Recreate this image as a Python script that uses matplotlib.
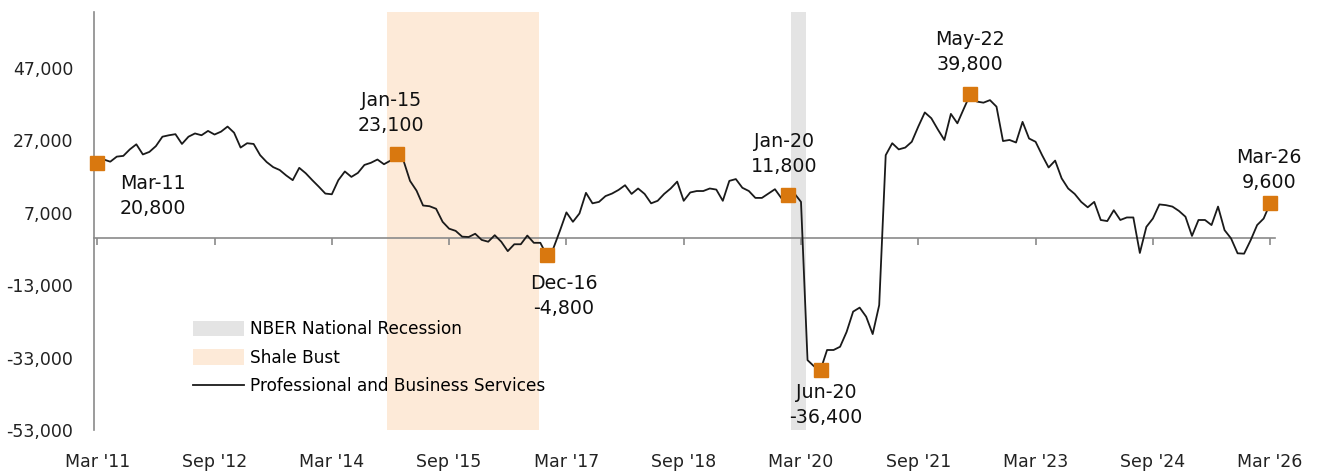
import matplotlib
matplotlib.use("Agg")
import matplotlib.pyplot as plt
from matplotlib.patches import Patch
from matplotlib.lines import Line2D
import pandas as pd

plt.rcParams['font.family'] = ['DejaVu Sans']

# --- veri: aylık değişim (Mar 2011 - Mar 2026) ---
start_month = "2011-03"
jobs = [
    20.8, 21.7, 21.1, 22.5, 22.7, 24.5, 25.9, 23.1, 23.8, 25.4,
    28.0, 28.4, 28.7, 26.0, 28.0, 28.9, 28.4, 29.6, 28.6, 29.4,
    30.8, 29.1, 25.0, 26.2, 26.0, 22.9, 21.0, 19.6, 18.8, 17.3,
    16.0, 19.4, 17.9, 16.0, 14.2, 12.3, 12.1, 16.0, 18.4, 16.9,
    18.0, 20.2, 20.8, 21.7, 20.4, 21.4, 23.1, 21.4, 15.8, 13.1,
    9.0, 8.8, 8.1, 4.5, 2.6, 2.0, 0.4, 0.3, 1.2, -0.5,
    -1.0, 0.8, -1.0, -3.6, -1.7, -1.7, 0.7, -1.3, -1.3, -4.8,
    -2.8, 2.0, 7.1, 4.5, 6.8, 12.5, 9.6, 10.0, 11.6, 12.3,
    13.3, 14.6, 12.2, 13.7, 12.2, 9.6, 10.3, 12.2, 13.7, 15.6,
    10.3, 12.6, 13.0, 13.0, 13.7, 13.4, 10.3, 15.8, 16.3, 13.9,
    13.0, 11.1, 11.1, 12.3, 13.5, 11.0, 11.8, 12.3, 10.0, -33.7,
    -35.4, -36.4, -30.9, -30.9, -30.0, -25.9, -20.3, -19.2, -21.7, -26.5,
    -18.5, 22.9, 26.2, 24.5, 25.0, 26.6, 30.8, 34.7, 33.1, 30.0,
    27.1, 34.3, 31.7, 35.8, 39.8, 37.7, 37.4, 38.1, 36.3, 26.8,
    27.1, 26.4, 32.1, 27.5, 26.6, 22.9, 19.5, 21.4, 16.5, 13.7,
    12.2, 10.0, 8.5, 10.0, 5.0, 4.7, 7.7, 5.0, 5.7, 5.7,
    -4.1, 3.1, 5.4, 9.3, 9.1, 8.7, 7.5, 5.9, 0.6, 5.0,
    5.0, 3.6, 8.7, 2.2, -0.1, -4.2, -4.3, -0.6, 3.6, 5.4,
    9.6,
]
jobs = [v * 1000 for v in jobs]

months = pd.period_range(start_month, periods=len(jobs), freq="M")
x = list(range(len(jobs)))

# işaretlenen noktalar ve etiket ofsetleri
highlight_months = ["2011-03", "2015-01", "2016-12", "2020-01", "2020-06", "2022-05", "2026-03"]
label_offsets = [(40, -24), (-4, 30), (12, -29), (-3, 30), (4, -25), (0, 30), (-1, 24)]

# gölgeli dönemler
shale_bust = ("2014-12", "2016-11")
recession = ("2020-02", "2020-04")

y_ticks = [-53000, -33000, -13000, 7000, 27000, 47000]
x_tick_labels = ["Mar '11", "Sep '12", "Mar '14", "Sep '15", "Mar '17", "Sep '18",
                 "Mar '20", "Sep '21", "Mar '23", "Sep '24", "Mar '26"]

ORANGE = "#D9780F"


def month_index(s):
    return (pd.Period(s, freq="M") - months[0]).n


fig = plt.figure(figsize=(13.2, 4.71), dpi=100)
ax = fig.add_axes([0.0712, 0.087, 0.895, 0.888])

# gölgeler
ax.axvspan(month_index(shale_bust[0]) - 0.5, month_index(shale_bust[1]) - 0.2,
           color="#FDEAD8", lw=0, zorder=0)
ax.axvspan(month_index(recession[0]) - 0.5, month_index(recession[1]) - 0.2,
           color="#E4E4E4", lw=0, zorder=0)

ax.plot(x, jobs, color="#1a1a1a", lw=1.3, zorder=3)

for m, off in zip(highlight_months, label_offsets):
    i = month_index(m)
    ax.plot(i, jobs[i], marker="s", ms=10, color=ORANGE, mec=ORANGE, zorder=4, clip_on=False)
    lbl = pd.Period(m, freq="M").strftime("%b-%y") + "\n" + f"{jobs[i]:,.0f}"
    ax.annotate(lbl, (i, jobs[i]), xytext=off, textcoords="offset points",
                ha="center", va="center", fontsize=13.7, linespacing=1.4, color="#111111")

ax.set_xlim(-0.5, len(jobs) - 0.2)
ax.set_ylim(-53000, 62500)

# eksenler
for s in ["top", "right"]:
    ax.spines[s].set_visible(False)
ax.spines["left"].set_color("#8a8a8a")
ax.spines["left"].set_linewidth(1.2)
ax.spines["bottom"].set_position(("data", 0))
ax.spines["bottom"].set_color("#8a8a8a")
ax.spines["bottom"].set_linewidth(1.2)

ax.set_yticks(y_ticks)
ax.set_yticklabels([f"{v:,}" for v in y_ticks])
ax.tick_params(axis="y", length=0, pad=15, labelsize=12.5, labelcolor="#222222")

ax.set_xticks(range(0, len(jobs), 18))
ax.set_xticklabels(x_tick_labels)
ax.tick_params(axis="x", direction="out", length=5, width=1.2, color="#8a8a8a",
               pad=150, labelsize=12.5, labelcolor="#222222")

handles = [
    Patch(facecolor="#E4E4E4", edgecolor="none"),
    Patch(facecolor="#FDEAD8", edgecolor="none"),
    Line2D([0], [0], color="#1a1a1a", lw=1.3),
]
ax.legend(handles, ["NBER National Recession", "Shale Bust", "Professional and Business Services"],
          loc="upper left", bbox_to_anchor=(0.0707, 0.299), frameon=False, fontsize=12.2,
          handlelength=3.0, handleheight=1.0, labelspacing=0.62, handletextpad=0.35)

fig.savefig("out.png", dpi=100)
